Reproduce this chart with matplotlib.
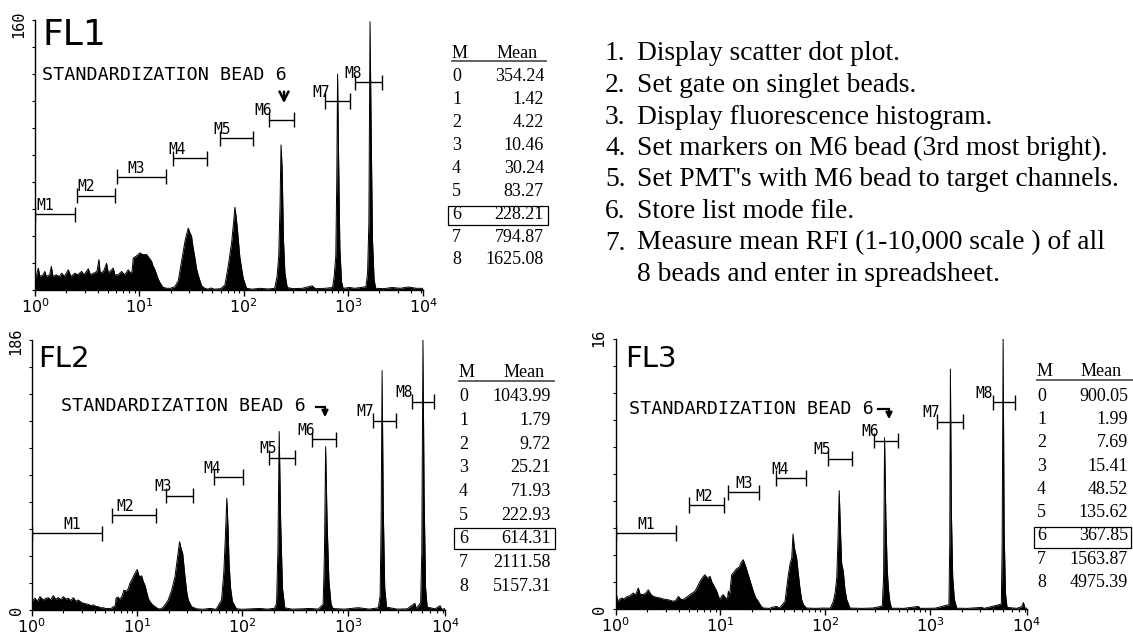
"""
Bead standardization histograms (FL1, FL2, FL3) with marker gates and mean tables.
"""

import numpy as np
import matplotlib
matplotlib.use('Agg')
import matplotlib.pyplot as plt
from matplotlib.patches import Rectangle, FancyArrowPatch
from matplotlib.lines import Line2D

W, H = 1133, 635
MONO = 'DejaVu Sans Mono'
SERIF = 'Liberation Serif'
plt.rcParams['mathtext.fontset'] = 'custom'
plt.rcParams['mathtext.rm'] = MONO

# --- data: histograms as (channel, count), 256 channels over 4 log decades ---
fl1_hist = [
    (0, 7), (1, 9), (2, 13), (3, 8), (5, 9), (6, 11), (7, 8), (9, 9), (10, 14), (11, 8),
    (13, 9), (15, 8), (16.4, 10), (18, 8), (20.4, 12), (22, 8), (24.5, 10), (26, 9),
    (28.6, 11), (30, 9), (32.7, 12.6), (34, 9), (36, 10), (38, 11), (39.2, 18), (40, 10),
    (42, 11), (43.9, 15.8), (45, 10), (48, 13), (49, 9), (51, 9), (53.1, 11), (55, 9),
    (57.2, 12), (58.5, 10), (59.5, 11), (60.3, 19), (62, 20), (64.4, 22), (66, 21),
    (68.5, 21), (70, 19), (71.5, 17), (72.5, 14), (73.6, 12), (75, 8), (76.3, 5),
    (77.5, 3), (78.7, 1.5), (81, 1), (83, 1), (85.8, 2), (87.9, 5.5), (89.9, 17),
    (92, 29), (93, 33), (94, 36.7), (95, 34), (96, 32), (97, 25), (98.1, 19), (99, 13),
    (100.2, 8.5), (102.2, 2.5), (104.2, 1), (106, 0.5), (108, 1.2), (110, 0.5),
    (114, 0.8), (116.5, 3), (118.5, 14), (120.6, 28), (121.8, 40), (122.6, 49),
    (123.3, 44), (124, 37.5), (125.7, 19), (127.7, 7), (129.8, 1), (133, 0.5), (138, 1),
    (143, 0.6), (147, 1), (148.5, 8), (149.5, 20), (150.3, 50), (150.9, 86), (151.6, 72),
    (152.4, 30), (153.3, 10), (154.7, 1.5), (158, 0.8), (164, 1), (170, 2.5), (172, 0.8),
    (178, 1), (182.5, 1.5), (183.5, 8), (184.5, 20), (185.1, 65), (185.6, 128),
    (186.2, 80), (187.0, 25), (188.0, 5), (189, 1), (193, 1.5), (196, 1), (200, 1.5),
    (203, 2), (204, 10), (204.8, 40), (205.5, 159), (206.2, 95), (207, 30), (208, 6),
    (209, 1), (214, 0.8), (219, 1.5), (224, 1), (229, 1.8), (234, 1), (238, 1),
]
fl2_hist = [
    (0, 5.8), (2, 8.1), (3.5, 6), (5, 9.2), (7.1, 6.9), (8.5, 8), (10.1, 8.5), (11.5, 7),
    (13.1, 9.9), (14.5, 7.5), (16.2, 8.5), (17.7, 7), (19.2, 9.2), (20.7, 7.5), (22.2, 8.1),
    (23.7, 6.5), (25.3, 8.5), (26.8, 6), (28.3, 6.9), (29.8, 5.5), (31.4, 4.6), (33, 4.2),
    (34.4, 3.9), (36, 3), (37.4, 3.5), (39, 2.5), (40.5, 2.3), (42, 1.5), (43.5, 1.6),
    (45, 1), (46.5, 1.1), (48, 0.8), (49.6, 2.3), (50.8, 3), (51.2, 8.1), (52.5, 9),
    (53.6, 7), (55, 10), (56, 13.6), (57.5, 13), (58.7, 14.8), (59.5, 18), (60.7, 20.6),
    (61.7, 23), (62.7, 25.2), (63.3, 26.4), (64.1, 27.9), (65, 24), (65.8, 22.9),
    (66.8, 23.5), (67.8, 19.5), (68.8, 17), (69.8, 12.6), (70.8, 8), (71.8, 5.8),
    (73.5, 3.5), (74.9, 2.3), (76.5, 1), (77.9, 0.7), (79.5, 1.5), (80.9, 3.5), (82.9, 6.9),
    (85, 13.6), (87, 22.9), (88.6, 36.6), (89.8, 47), (90.8, 42), (91.7, 38.9),
    (93.1, 22.9), (94.2, 12), (95.1, 6.9), (97.1, 2.3), (100.2, 0.8), (104, 0.5),
    (108.3, 1.1), (112, 0.5), (115.3, 6.9), (116.7, 26.6), (117.6, 50), (118.5, 77),
    (119.3, 55), (119.9, 31), (120.8, 15), (121.9, 5.8), (124.4, 0.8), (128, 0.5),
    (133, 0.8), (138.6, 1.1), (143, 0.6), (147.5, 1.2), (148.7, 4.6), (149.5, 40),
    (150.3, 123), (151.2, 60), (152.3, 15), (153.7, 1.5), (158, 0.6), (164, 0.8),
    (169, 1.1), (174, 0.6), (177, 4), (177.8, 40), (178.5, 112.5), (179.4, 60),
    (180.5, 20), (181.8, 4), (183, 1), (190, 0.6), (198.3, 1.6), (205, 0.6), (210.5, 1.5),
    (211.6, 10), (212.2, 60), (212.8, 165), (213.5, 70), (214.4, 15), (215.5, 2),
    (222, 0.6), (228, 0.8), (232.7, 4.6), (233.5, 1), (236.2, 5), (236.9, 40),
    (237.6, 186), (238.3, 80), (239.2, 15), (240.2, 2), (245, 0.8), (248, 3), (249, 0.5),
    (251, 1),
]
fl3_hist = [
    (0, 13), (0.6, 8), (1.2, 4.7), (2.5, 6), (3.6, 6.8), (5, 6.2), (6.5, 7.5), (7.7, 7.8),
    (9, 8.5), (10.8, 9.9), (12, 8.5), (13.8, 13), (15, 9), (16.9, 8.9), (18.5, 10),
    (19.9, 11.9), (21.5, 9), (23, 7.8), (25, 7.2), (27.1, 6.8), (29, 6.2), (31.1, 5.8),
    (33, 5.5), (35.2, 4.7), (36.8, 5.5), (38.3, 7.8), (39.8, 6), (41.3, 5.8), (43.5, 7.5),
    (45.4, 8.9), (47, 10), (48.4, 11), (50, 14), (51.5, 17.1), (53, 19.5), (54.5, 21.2),
    (56, 19), (57.6, 20.2), (58.6, 17), (59.6, 15), (60.7, 13), (61.7, 11), (62.7, 8),
    (63.7, 5.8), (64.7, 8), (65.7, 8.9), (67, 7), (68.2, 6), (68.8, 11), (69.5, 8),
    (70.8, 21), (72.3, 23), (73.9, 25), (75.5, 26), (76.7, 29), (77.9, 30.5), (79.5, 26),
    (81, 21), (82.5, 16), (84, 11), (85.5, 7), (87.1, 4.7), (88.6, 2), (90.2, 0.6),
    (94, 0.4), (96, 1.2), (98.3, 1.6), (100, 0.5), (103.4, 4.7), (105.4, 21), (106.5, 28),
    (107.5, 31.5), (108.3, 46.4), (109.1, 38), (110.5, 31.5), (111.5, 22), (112.5, 13),
    (113.5, 6), (114.6, 2.7), (116.5, 0.6), (122, 0.4), (127, 0.6), (131, 0.5),
    (132.9, 4.7), (134, 10), (135, 19.2), (135.8, 45), (136.5, 73.2), (137.2, 50),
    (138, 28), (139, 23.3), (140, 12), (141.1, 5.8), (143.1, 0.6), (150, 0.4), (157, 0.6),
    (162.8, 1.8), (163.6, 20), (164.2, 106), (165, 55), (165.8, 25), (166.5, 13),
    (167.5, 4), (168.5, 0.5), (176, 0.4), (184.8, 1.6), (186, 0.4), (195, 0.5),
    (203.5, 2.7), (204, 40), (204.4, 148.4), (205, 60), (205.8, 20), (206.8, 6),
    (208.3, 0.5), (215, 0.4), (223.5, 1), (225, 0.4), (235.5, 3), (236, 40), (236.6, 167),
    (237.2, 50), (238, 10), (239, 1), (245, 0.4), (248, 1.5), (249, 4), (250, 0.5),
    (251, 0.5),
]

# marker gates M1..M8 (channel ranges)
fl1_gate_lo = [0, 25.8, 50.3, 84.8, 113.4, 143.6, 178.1, 196.5]
fl1_gate_hi = [24.5, 49.1, 80.4, 105.7, 133.5, 158.8, 193.5, 212.8]
fl2_gate_lo = [0, 48.8, 81.4, 110.5, 144.4, 170.2, 207.1, 231.0]
fl2_gate_hi = [42.8, 75.3, 98.1, 128.1, 160.0, 184.5, 221.4, 244.2]
fl3_gate_lo = [0, 44.6, 68.8, 97.7, 129.4, 157.6, 196.5, 230.5]
fl3_gate_hi = [36.9, 66.1, 87.3, 116.5, 144.5, 172.7, 212.0, 243.8]

# mean RFI per marker (M0 = all events)
fl1_mean = [354.24, 1.42, 4.22, 10.46, 30.24, 83.27, 228.21, 794.87, 1625.08]
fl2_mean = [1043.99, 1.79, 9.72, 25.21, 71.93, 222.93, 614.31, 2111.58, 5157.31]
fl3_mean = [900.05, 1.99, 7.69, 15.41, 48.52, 135.62, 367.85, 1563.87, 4975.39]

steps = [
    "Display scatter dot plot.",
    "Set gate on singlet beads.",
    "Display fluorescence histogram.",
    "Set markers on M6 bead (3rd most bright).",
    "Set PMT's with M6 bead to target channels.",
    "Store list mode file.",
    "Measure mean RFI (1-10,000 scale ) of all",
]
step_cont = "8 beads and enter in spreadsheet."

# --- drawing-only settings (gate bar heights, label x in channels) ---
fl1_bar_y = [45, 56, 67, 78, 90, 101, 112, 123]
fl2_bar_y = [52.8, 65.4, 78.8, 91.6, 104.9, 117.6, 130.4, 143.5]
fl3_bar_y = [47, 64.3, 72.2, 81, 92.9, 104, 115.9, 127.8]
fl1_lab_x = [6, 31.6, 62, 87, 115, 140, 175.7, 195]
fl2_lab_x = [24.3, 56.9, 80.1, 109.4, 143.5, 166.5, 202.3, 226.2]
fl3_lab_x = [18.8, 53.9, 78.3, 100.5, 126, 155.4, 192.7, 224.9]


def fx(x):
    return x / W


def fy(y):
    return 1 - y / H


def px_rect(left, top, right, bottom):
    return [left / W, 1 - bottom / H, (right - left) / W, (bottom - top) / H]


fig = plt.figure(figsize=(W / 100, H / 100), dpi=100)


def draw_panel(rect, hist, ymax, xmax, lo, hi, bar_y, lab_x, top_label, top_off, zero_label):
    ax = fig.add_axes(rect)
    ch, counts = np.array(hist).T
    ax.fill_between(ch, counts, color='black', lw=0)
    ax.plot(ch, counts, color='black', lw=0.7)

    cap = 0.028 * ymax
    for i in range(8):
        ax.hlines(bar_y[i], lo[i], hi[i], color='black', lw=1.0)
        ax.vlines([lo[i], hi[i]], bar_y[i] - cap, bar_y[i] + cap, color='black', lw=1.0)
        ax.annotate(f'M{i + 1}', (lab_x[i], bar_y[i]), xytext=(0, 1), textcoords='offset points',
                    ha='center', va='bottom', fontsize=10.5, family=MONO)

    ax.set_xlim(0, xmax)
    ax.set_ylim(0, ymax)
    for s in ['top', 'right']:
        ax.spines[s].set_visible(False)
    for s in ['left', 'bottom']:
        ax.spines[s].set_linewidth(1.0)

    ax.set_xticks([0, 64, 128, 192, xmax])
    ax.set_xticklabels([r'$\mathregular{10^{%d}}$' % d for d in range(5)], fontsize=11.5)
    minor = [64 * (d + np.log10(k)) for d in range(4) for k in range(2, 10)]
    ax.set_xticks([m for m in minor if m < xmax], minor=True)
    ax.tick_params(axis='x', which='major', length=4.5, width=1, pad=0.5)
    ax.tick_params(axis='x', which='minor', length=2.5, width=0.8)
    ax.set_yticks(np.linspace(0, ymax, 11))
    ax.set_yticklabels([])
    ax.tick_params(axis='y', length=2.5, width=0.8)

    ax.annotate(top_label, (0, 1), xycoords='axes fraction', xytext=top_off,
                textcoords='offset points', rotation=90, ha='center', va='center',
                fontsize=11, family=MONO)
    if zero_label:
        ax.annotate('0', (0, 0), xycoords='axes fraction', xytext=(top_off[0], 0),
                    textcoords='offset points', rotation=90, ha='center', va='center',
                    fontsize=11, family=MONO)
    return ax


draw_panel(px_rect(35, 20, 423, 290), fl1_hist, 160, 238, fl1_gate_lo, fl1_gate_hi,
           fl1_bar_y, fl1_lab_x, '160', (-11.5, -2.9), False)
draw_panel(px_rect(31.7, 340, 445, 610), fl2_hist, 186, 251, fl2_gate_lo, fl2_gate_hi,
           fl2_bar_y, fl2_lab_x, '186', (-11.3, -1), True)
draw_panel(px_rect(615.7, 339, 1026.7, 609), fl3_hist, 167, 251, fl3_gate_lo, fl3_gate_hi,
           fl3_bar_y, fl3_lab_x, '16', (-11.9, 0.7), True)

# panel titles and bead text
fig.text(fx(43), fy(45), 'FL1', fontsize=26, family='DejaVu Sans', va='baseline')
fig.text(fx(38), fy(367), 'FL2', fontsize=21, family='DejaVu Sans', va='baseline')
fig.text(fx(625), fy(367), 'FL3', fontsize=21, family='DejaVu Sans', va='baseline')

for x, y in [(42, 75), (60.7, 405.6), (629.4, 408.6)]:
    fig.text(fx(x), fy(y), 'STANDARDIZATION BEAD 6', fontsize=13.2, family=MONO, va='center')

fig.add_artist(FancyArrowPatch((fx(284), fy(89)), (fx(284), fy(106)), transform=fig.transFigure,
                               arrowstyle='->', mutation_scale=16, lw=1.8, color='black'))
for x0, x1, y0, y1 in [(316, 325, 407, 420), (878, 889, 408.6, 422)]:
    fig.add_artist(Line2D([fx(x0), fx(x1)], [fy(y0), fy(y0)], transform=fig.transFigure,
                          color='black', lw=1.6))
    fig.add_artist(FancyArrowPatch((fx(x1), fy(y0 - 0.8)), (fx(x1), fy(y1)),
                                   transform=fig.transFigure, arrowstyle='-|>',
                                   mutation_scale=9, lw=1.6, color='black'))


def draw_table(means, x_m, x_num, x_line1, y_head, y_line, y_row0, dy, box):
    fig.text(fx(x_m), fy(y_head), 'M', fontsize=13, family=SERIF, va='center')
    fig.text(fx(x_num - 6), fy(y_head), 'Mean', fontsize=13, family=SERIF, va='center', ha='right')
    fig.add_artist(Line2D([fx(x_m), fx(x_line1)], [fy(y_line), fy(y_line)],
                          transform=fig.transFigure, color='#555555', lw=1.3))
    for i, v in enumerate(means):
        y = y_row0 + i * dy
        fig.text(fx(x_m), fy(y), str(i), fontsize=13, family=SERIF, va='center')
        fig.text(fx(x_num), fy(y), f'{v:.2f}', fontsize=13, family=SERIF, va='center', ha='right')
    bx0, bx1, by0, by1 = box
    fig.add_artist(Rectangle((fx(bx0), fy(by1)), (bx1 - bx0) / W, (by1 - by0) / H,
                             transform=fig.transFigure, fill=False, lw=0.9, ec='black'))


draw_table(fl1_mean, 452, 544, 546, 53.3, 61, 76.7, 22.9, (448, 548, 206, 225))
draw_table(fl2_mean, 459, 551, 554, 372.8, 381, 396.9, 23.64, (453.6, 554.6, 528.4, 548.5))
draw_table(fl3_mean, 1037, 1128, 1133, 371.8, 380, 396.2, 23.3, (1034, 1130.5, 526.7, 547.5))

# protocol steps
for i, s in enumerate(steps):
    y = 54 + i * 31.5
    fig.text(fx(605), fy(y), f'{i + 1}.', fontsize=19.8, family=SERIF, va='center')
    fig.text(fx(637), fy(y), s, fontsize=19.8, family=SERIF, va='center')
fig.text(fx(637), fy(54 + 7 * 31.5), step_cont, fontsize=19.8, family=SERIF, va='center')

fig.savefig('out.png', dpi=100)
